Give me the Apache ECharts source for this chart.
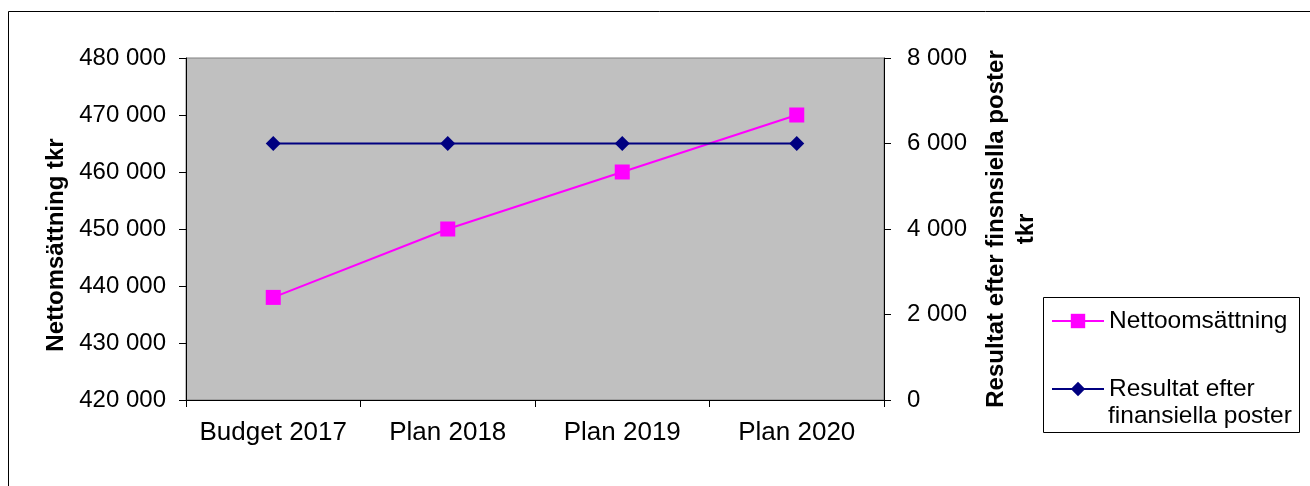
<!DOCTYPE html>
<html>
<head>
<meta charset="utf-8">
<script src="https://cdn.jsdelivr.net/npm/echarts@6/dist/echarts.min.js"></script>
<style>
html,body{margin:0;padding:0;background:#fff;}
#c{width:1310px;height:486px;}
</style>
</head>
<body>
<div id="c"></div>
<script>
var categories = ['Budget 2017', 'Plan 2018', 'Plan 2019', 'Plan 2020'];
var nettoomsattning = [438000, 450000, 460000, 470000];
var resultat = [6000, 6000, 6000, 6000];
var seriesNames = ['Nettoomsättning', 'Resultat efter finansiella poster'];
var leftAxisName = 'Nettomsättning tkr';
var rightAxisName = 'Resultat efter finsnsiella poster\ntkr';

function fmt(v) {
  return String(v).replace(/\B(?=(\d{3})+(?!\d))/g, ' ');
}
var FONT = '"Liberation Sans", Arial, sans-serif';
var chart = echarts.init(document.getElementById('c'), null, {renderer: 'canvas'});
chart.setOption({
  animation: false,
  backgroundColor: '#fff',
  grid: {
    left: 186, top: 58, width: 698, height: 342,
    show: true, backgroundColor: '#C0C0C0', borderColor: '#808080', borderWidth: 1
  },
  legend: {
    orient: 'vertical',
    left: 1051, top: 308, padding: 0,
    itemWidth: 52, itemHeight: 18, itemGap: 42,
    textStyle: {fontFamily: FONT, fontSize: 24.5, color: '#000', lineHeight: 26},
    formatter: function (n) { return n === seriesNames[1] ? 'Resultat efter' : n; },
    data: seriesNames
  },
  graphic: [
    {type: 'rect', silent: true, shape: {x: 8.5, y: 11.5, width: 1400, height: 600},
     style: {fill: 'none', stroke: '#000', lineWidth: 1}},
    {type: 'rect', silent: true, shape: {x: 1043.5, y: 297.5, width: 256, height: 135},
     style: {fill: 'none', stroke: '#000', lineWidth: 1}},
    {type: 'text', silent: true, left: 1108, top: 404,
     style: {text: 'finansiella poster', fontFamily: FONT, fontSize: 24.5, fill: '#000'}}
  ],
  xAxis: {
    type: 'category', data: categories, boundaryGap: true,
    axisLine: {lineStyle: {color: '#000', width: 1}},
    axisTick: {show: true, length: 7, lineStyle: {color: '#000'}},
    axisLabel: {fontFamily: FONT, fontSize: 26, color: '#000', margin: 20, interval: 0}
  },
  yAxis: [
    {
      type: 'value', position: 'left', min: 420000, max: 480000, interval: 10000,
      name: leftAxisName, nameLocation: 'middle', nameRotate: 90, nameGap: 106,
      nameTextStyle: {fontFamily: FONT, fontSize: 24, fontWeight: 'bold', color: '#000', padding: [0, 32, 0, 0]},
      axisLine: {show: true, lineStyle: {color: '#000', width: 1}},
      axisTick: {show: true, length: 7, lineStyle: {color: '#000'}},
      splitLine: {show: false},
      axisLabel: {fontFamily: FONT, fontSize: 24, color: '#000', margin: 20, formatter: fmt}
    },
    {
      type: 'value', position: 'right', min: 0, max: 8000, interval: 2000,
      name: rightAxisName, nameLocation: 'middle', nameRotate: 90, nameGap: 97,
      nameTextStyle: {fontFamily: FONT, fontSize: 24, fontWeight: 'bold', color: '#000', lineHeight: 30, align: 'center'},
      axisLine: {show: true, lineStyle: {color: '#000', width: 1}},
      axisTick: {show: true, length: 7, lineStyle: {color: '#000'}},
      splitLine: {show: false},
      axisLabel: {fontFamily: FONT, fontSize: 24, color: '#000', margin: 23, formatter: fmt}
    }
  ],
  series: [
    {
      name: seriesNames[0], type: 'line', yAxisIndex: 0, data: nettoomsattning,
      symbol: 'rect', symbolSize: 15, showAllSymbol: true,
      lineStyle: {color: '#FF00FF', width: 2},
      itemStyle: {color: '#FF00FF'}
    },
    {
      name: seriesNames[1], type: 'line', yAxisIndex: 1, data: resultat,
      symbol: 'diamond', symbolSize: 15, showAllSymbol: true,
      lineStyle: {color: '#000080', width: 2},
      itemStyle: {color: '#000080'}
    }
  ]
});
</script>
</body>
</html>
